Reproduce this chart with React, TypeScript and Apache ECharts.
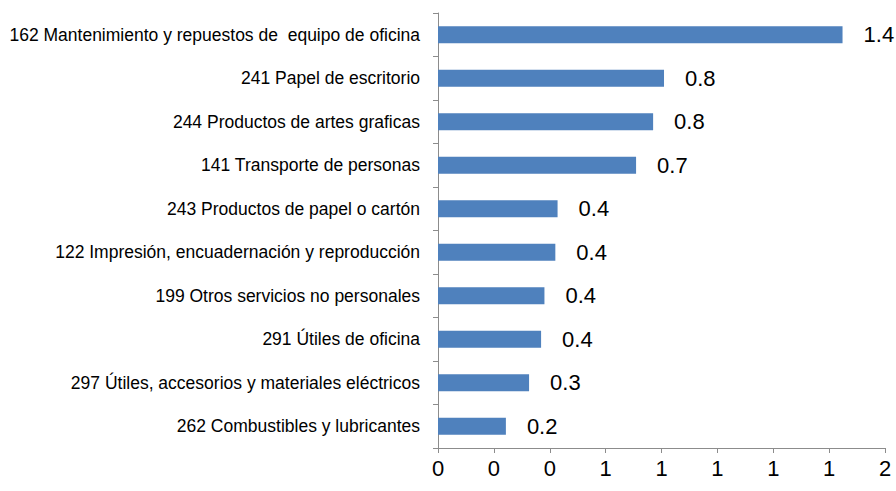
import React, { useEffect, useRef } from "react";
import * as echarts from "echarts";

const categories = [
  "162 Mantenimiento y repuestos de  equipo de oficina",
  "241 Papel de escritorio",
  "244 Productos de artes graficas",
  "141 Transporte de personas",
  "243 Productos de papel o cartón",
  "122 Impresión, encuadernación y reproducción",
  "199 Otros servicios no personales",
  "291 Útiles de oficina",
  "297 Útiles, accesorios y materiales eléctricos",
  "262 Combustibles y lubricantes",
];

const values = [1.448, 0.809, 0.77, 0.709, 0.428, 0.42, 0.381, 0.369, 0.326, 0.243];

const FONT = "'Liberation Sans Narrow', 'Arial Narrow', 'Liberation Sans', Arial, sans-serif";

export default function App() {
  const ref = useRef<HTMLDivElement>(null);
  useEffect(() => {
    if (!ref.current) return;
    const chart = echarts.init(ref.current, null, { renderer: "svg" });
    chart.setOption({
      animation: false,
      grid: { left: 438, right: 11, top: 13, bottom: 43 },
      xAxis: {
        type: "value",
        min: 0,
        max: 1.6,
        interval: 0.2,
        splitLine: { show: false },
        axisLine: { show: true, lineStyle: { color: "#8c8c8c", width: 1 } },
        axisTick: { show: true, length: 5, lineStyle: { color: "#8c8c8c" } },
        axisLabel: {
          color: "#000",
          fontFamily: FONT,
          fontSize: 22,
          margin: 9,
          formatter: (v: number) => String(Math.round(v)),
        },
      },
      yAxis: {
        type: "category",
        inverse: true,
        data: categories,
        axisLine: { show: true, lineStyle: { color: "#8c8c8c", width: 1 } },
        axisTick: { show: true, length: 5, lineStyle: { color: "#8c8c8c" } },
        axisLabel: {
          color: "#000",
          fontFamily: FONT,
          fontSize: 17.5,
          margin: 18,
        },
      },
      series: [
        {
          type: "bar",
          data: values,
          barWidth: 17,
          itemStyle: { color: "#4F81BD" },
          label: {
            show: true,
            position: "right",
            distance: 21,
            color: "#000",
            fontFamily: FONT,
            fontSize: 22,
            formatter: (p: any) => (p.value as number).toFixed(1),
          },
        },
      ],
    });
    return () => chart.dispose();
  }, []);
  return <div ref={ref} style={{ width: 896, height: 491, position: "absolute", left: 0, top: 0 }} />;
}
